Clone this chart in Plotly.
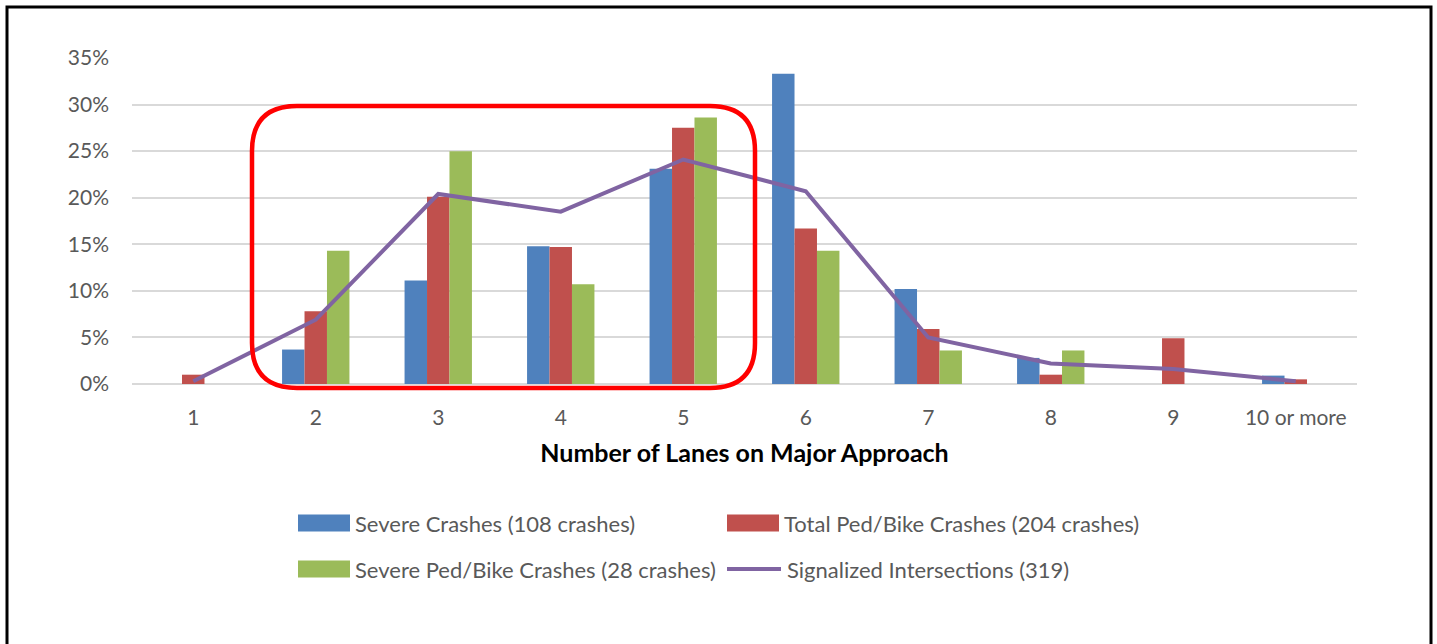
import plotly.graph_objects as go

categories = ["1", "2", "3", "4", "5", "6", "7", "8", "9", "10 or more"]
severe_crashes = [0.0, 3.7, 11.1, 14.8, 23.1, 33.3, 10.2, 2.8, 0.0, 0.9]
total_pedbike = [1.0, 7.8, 20.1, 14.7, 27.5, 16.7, 5.9, 1.0, 4.9, 0.5]
severe_pedbike = [0.0, 14.3, 25.0, 10.7, 28.6, 14.3, 3.6, 3.6, 0.0, 0.0]
signalized = [0.3, 6.9, 20.4, 18.5, 24.1, 20.7, 5.0, 2.2, 1.6, 0.3]
y_ticks = [0, 5, 10, 15, 20, 25, 30, 35]
y_tick_labels = [f"{v}%" for v in y_ticks]

series_names = ["Severe Crashes (108 crashes)", "Total Ped/Bike Crashes (204 crashes)",
                "Severe Ped/Bike Crashes (28 crashes)", "Signalized Intersections (319)"]
colors = ["#4F81BD", "#C0504D", "#9BBB59", "#8064A2"]

W, H = 1437, 644
L, R, T, B = 132, 80, 58, 260
FONT = "Lato"
TICK_SIZE = 21
LEG_SIZE = 22

fig = go.Figure()
for vals, name, col in zip([severe_crashes, total_pedbike, severe_pedbike], series_names[:3], colors[:3]):
    fig.add_trace(go.Bar(x=categories, y=vals, name=name, marker_color=col,
                         marker_line_width=0, showlegend=False))
fig.add_trace(go.Scatter(x=categories, y=signalized, name=series_names[3], mode="lines",
                         line=dict(color=colors[3], width=4), showlegend=False))

pw = W - L - R
ph = H - T - B


def px_x(x):
    return (x - L) / pw


def px_y(y):
    return (H - B - y) / ph


shapes = []
# outer frame
shapes.append(dict(type="rect", xref="paper", yref="paper",
                   x0=px_x(7), x1=px_x(1431), y0=px_y(7), y1=px_y(650),
                   line=dict(color="black", width=3), layer="above"))

# rounded red highlight box (pixel geometry)
x0, x1, y0, y1, r = 252, 755, 106, 388, 45


def P(x, y):
    return f"{px_x(x):.5f},{px_y(y):.5f}"


path = (f"M {P(x0 + r, y0)} L {P(x1 - r, y0)} Q {P(x1, y0)} {P(x1, y0 + r)} "
        f"L {P(x1, y1 - r)} Q {P(x1, y1)} {P(x1 - r, y1)} "
        f"L {P(x0 + r, y1)} Q {P(x0, y1)} {P(x0, y1 - r)} "
        f"L {P(x0, y0 + r)} Q {P(x0, y0)} {P(x0 + r, y0)} Z")
shapes.append(dict(type="path", xref="paper", yref="paper", path=path,
                   line=dict(color="#FF0000", width=4.5), layer="above"))

# manual legend
annotations = []
legend_items = [
    (298, 523, 0), (727, 523, 1), (298, 569, 2), (727, 569, 3)
]
for lx, ly, i in legend_items:
    if i < 3:
        shapes.append(dict(type="rect", xref="paper", yref="paper",
                           x0=px_x(lx), x1=px_x(lx + 52), y0=px_y(ly - 8.5), y1=px_y(ly + 8.5),
                           fillcolor=colors[i], line=dict(width=0)))
        tx = lx + 55
    else:
        shapes.append(dict(type="line", xref="paper", yref="paper",
                           x0=px_x(lx), x1=px_x(lx + 54), y0=px_y(ly), y1=px_y(ly),
                           line=dict(color=colors[i], width=4)))
        tx = lx + 58
    annotations.append(dict(xref="paper", yref="paper", x=px_x(tx), y=px_y(ly),
                            xanchor="left", yanchor="middle", showarrow=False,
                            text=series_names[i],
                            font=dict(family=FONT, size=LEG_SIZE, color="#595959")))

fig.update_layout(
    width=W, height=H,
    margin=dict(l=L, r=R, t=T, b=B, autoexpand=False),
    paper_bgcolor="white", plot_bgcolor="white",
    barmode="group", bargap=0.45, bargroupgap=0,
    font=dict(family=FONT, size=TICK_SIZE, color="#595959"),
    shapes=shapes, annotations=annotations,
    xaxis=dict(
        type="category", showgrid=False, showline=False, zeroline=False,
        ticks="", ticklabelstandoff=19,
        tickfont=dict(family=FONT, size=TICK_SIZE, color="#595959"),
        title=dict(text="<b>Number of Lanes on Major Approach</b>", standoff=16,
                   font=dict(family=FONT, size=25, color="black")),
    ),
    yaxis=dict(
        range=[0, 35], tickvals=y_ticks, ticktext=y_tick_labels,
        showgrid=True, gridcolor="#D9D9D9", gridwidth=2,
        zeroline=True, zerolinecolor="#D9D9D9", zerolinewidth=2,
        showline=False, ticks="", ticklabelstandoff=22,
        tickfont=dict(family=FONT, size=TICK_SIZE, color="#595959"),
    ),
)

fig.write_html("out.html", config={"displayModeBar": False},
               post_script="document.body.style.margin='0';")
